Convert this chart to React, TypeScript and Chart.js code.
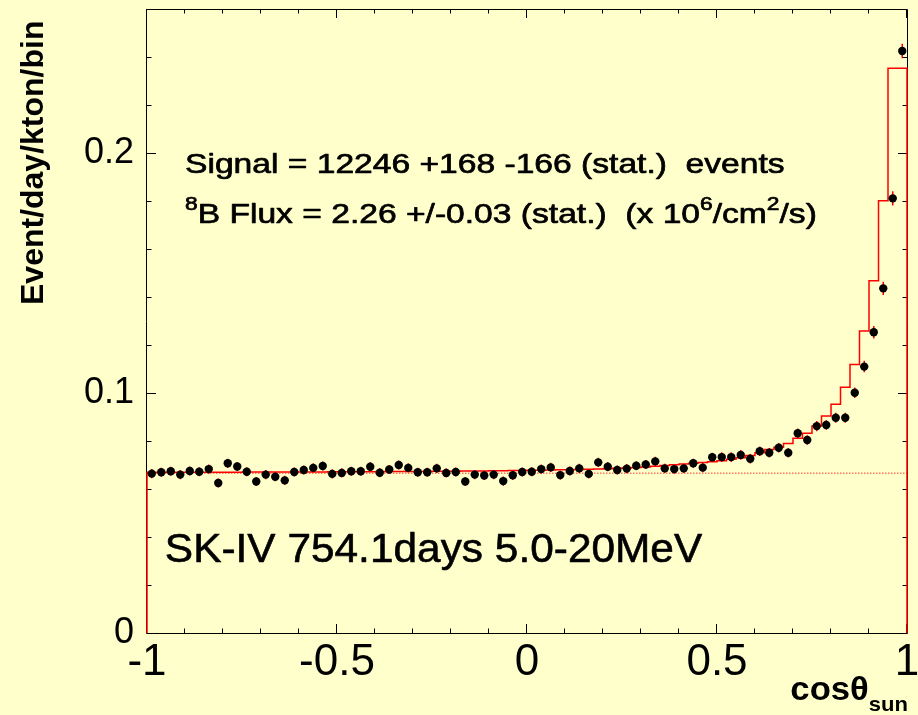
import React, { useEffect, useRef } from "react";
import { Chart, registerables } from "chart.js";

Chart.register(...registerables);

// ---- Histogram binning (80 bins over cos(theta_sun) in [-1, 1]) ----
const BIN_LOW = -1;
const BIN_WIDTH = 0.025;

// Data points (event/day/kton/bin), one per bin
const dataValues = [
  0.0664, 0.0670, 0.0674, 0.0660, 0.0675, 0.0672, 0.0683, 0.0625, 0.0707, 0.0694,
  0.0672, 0.0631, 0.0660, 0.0651, 0.0636, 0.0671, 0.0679, 0.0688, 0.0696, 0.0663,
  0.0667, 0.0674, 0.0674, 0.0693, 0.0668, 0.0681, 0.0700, 0.0688, 0.0670, 0.0670,
  0.0686, 0.0667, 0.0671, 0.0631, 0.0660, 0.0656, 0.0660, 0.0633, 0.0657, 0.0671,
  0.0672, 0.0683, 0.0690, 0.0658, 0.0675, 0.0686, 0.0663, 0.0711, 0.0693, 0.0679,
  0.0685, 0.0697, 0.0702, 0.0715, 0.0686, 0.0683, 0.0686, 0.0707, 0.0689, 0.0732,
  0.0733, 0.0733, 0.0742, 0.0726, 0.0757, 0.0751, 0.0772, 0.0751, 0.0832, 0.0804,
  0.0862, 0.0867, 0.0897, 0.0897, 0.1001, 0.1110, 0.1253, 0.1436, 0.1811, 0.2425,
];

// Statistical errors per bin
const dataErrors = [
  0.0019, 0.0019, 0.0019, 0.0019, 0.0019, 0.0019, 0.0019, 0.0019, 0.0019, 0.0019,
  0.0019, 0.0019, 0.0019, 0.0019, 0.0019, 0.0019, 0.0019, 0.0019, 0.0019, 0.0019,
  0.0019, 0.0019, 0.0019, 0.0019, 0.0019, 0.0019, 0.0019, 0.0019, 0.0019, 0.0019,
  0.0019, 0.0019, 0.0019, 0.0019, 0.0019, 0.0019, 0.0019, 0.0019, 0.0019, 0.0019,
  0.0019, 0.0019, 0.0019, 0.0019, 0.0019, 0.0019, 0.0019, 0.0019, 0.0019, 0.0019,
  0.0019, 0.0019, 0.0019, 0.0019, 0.0019, 0.0019, 0.0019, 0.0019, 0.0019, 0.0019,
  0.0020, 0.0020, 0.0020, 0.0020, 0.0020, 0.0020, 0.0020, 0.0020, 0.0020, 0.0020,
  0.0021, 0.0021, 0.0021, 0.0021, 0.0022, 0.0024, 0.0026, 0.0028, 0.0030, 0.0030,
];

// Best-fit expectation (signal + background), one per bin
const fitValues = [
  0.0670, 0.0670, 0.0670, 0.0670, 0.0670, 0.0670, 0.0670, 0.0670, 0.0670, 0.0670,
  0.0670, 0.0671, 0.0671, 0.0671, 0.0671, 0.0671, 0.0671, 0.0671, 0.0671, 0.0671,
  0.0672, 0.0672, 0.0672, 0.0672, 0.0672, 0.0672, 0.0673, 0.0673, 0.0673, 0.0673,
  0.0673, 0.0674, 0.0674, 0.0674, 0.0675, 0.0675, 0.0675, 0.0676, 0.0676, 0.0677,
  0.0677, 0.0678, 0.0678, 0.0679, 0.0680, 0.0680, 0.0681, 0.0682, 0.0683, 0.0684,
  0.0686, 0.0688, 0.0690, 0.0692, 0.0695, 0.0698, 0.0701, 0.0704, 0.0707, 0.0710,
  0.0714, 0.0718, 0.0724, 0.0730, 0.0740, 0.0751, 0.0765, 0.0774, 0.0790, 0.0811,
  0.0832, 0.0862, 0.0904, 0.0953, 0.1024, 0.1119, 0.1258, 0.1468, 0.1801, 0.2353,
];

// Flat background level
const backgroundLevel = 0.0666;

// Axes
const X_MIN = -1;
const X_MAX = 1;
const Y_MIN = 0;
const Y_MAX = 0.26;
const xTickValues = [-1, -0.5, 0, 0.5, 1];
const xTickLabels = ["-1", "-0.5", "0", "0.5", "1"];
const yTickValues = [0, 0.1, 0.2];
const yTickLabels = ["0", "0.1", "0.2"];
const X_MINOR_STEP = 0.1;
const Y_MINOR_STEP = 0.02;

// Texts
const yTitle = "Event/day/kton/bin";
const xTitleMain = "cos\u03B8";
const xTitleSub = "sun";
const signalLine = "Signal = 12246 +168 -166 (stat.)  events";
const fluxLine = [
  { t: "8", sup: true },
  { t: "B Flux = 2.26 +/-0.03 (stat.)  (x 10", sup: false },
  { t: "6", sup: true },
  { t: "/cm", sup: false },
  { t: "2", sup: true },
  { t: "/s)", sup: false },
];
const runLabel = "SK-IV 754.1days 5.0-20MeV";

const BG = "#ffffcc";
const RED = "#ff0000";
const SANS = "'Liberation Sans', Arial, Helvetica, sans-serif";

type Seg = { t: string; size: number; rise?: number; bold?: boolean };

function drawRich(
  ctx: CanvasRenderingContext2D,
  segs: Seg[],
  x: number,
  y: number,
  sx: number,
  align: "left" | "right" = "left",
  heavy = 0
) {
  ctx.save();
  ctx.textBaseline = "alphabetic";
  ctx.textAlign = "left";
  ctx.fillStyle = "#000";
  ctx.strokeStyle = "#000";
  ctx.lineJoin = "round";
  let total = 0;
  const widths = segs.map((s) => {
    ctx.font = `${s.bold ? "bold " : ""}${s.size}px ${SANS}`;
    const w = ctx.measureText(s.t).width;
    total += w;
    return w;
  });
  ctx.translate(x, y);
  ctx.scale(sx, 1);
  let cx = align === "right" ? -total : 0;
  segs.forEach((s, i) => {
    ctx.font = `${s.bold ? "bold " : ""}${s.size}px ${SANS}`;
    ctx.fillText(s.t, cx, -(s.rise || 0));
    if (heavy > 0) {
      ctx.lineWidth = heavy;
      ctx.strokeText(s.t, cx, -(s.rise || 0));
    }
    cx += widths[i];
  });
  ctx.restore();
}

const rootStyle = {
  id: "rootStyle",
  beforeDraw(chart: any) {
    const { ctx, width, height } = chart;
    ctx.save();
    ctx.fillStyle = BG;
    ctx.fillRect(0, 0, width, height);
    ctx.restore();
  },
  beforeDatasetsDraw(chart: any) {
    const { ctx, chartArea } = chart;
    const xs = chart.scales.x;
    const ys = chart.scales.y;
    const { left, right, top, bottom } = chartArea;
    ctx.save();
    ctx.strokeStyle = "#000";
    ctx.lineWidth = 1;
    ctx.beginPath();
    ctx.rect(left - 0.5, top + 0.5, right - left + 1, bottom - top);
    ctx.stroke();
    // x ticks (bottom and top, inward)
    const nx = Math.round((X_MAX - X_MIN) / X_MINOR_STEP);
    ctx.beginPath();
    for (let k = 0; k <= nx; k++) {
      const v = X_MIN + k * X_MINOR_STEP;
      const px = Math.round(xs.getPixelForValue(v)) - 0.5;
      const len = k % 5 === 0 ? 9 : 4.5;
      ctx.moveTo(px, bottom);
      ctx.lineTo(px, bottom - len);
      ctx.moveTo(px, top);
      ctx.lineTo(px, top + len);
    }
    // y ticks (left and right, inward)
    const ny = Math.floor((Y_MAX - Y_MIN) / Y_MINOR_STEP + 1e-6);
    for (let k = 0; k <= ny; k++) {
      const v = Y_MIN + k * Y_MINOR_STEP;
      const py = Math.round(ys.getPixelForValue(v)) + 0.5;
      const len = k % 5 === 0 ? 9 : 4.5;
      ctx.moveTo(left, py);
      ctx.lineTo(left + len, py);
      ctx.moveTo(right, py);
      ctx.lineTo(right - len, py);
    }
    ctx.stroke();
    ctx.restore();
  },
  afterDatasetDraw(chart: any, args: any) {
    if (args.index !== 1) return;
    const { ctx } = chart;
    const xs = chart.scales.x;
    const ys = chart.scales.y;
    ctx.save();
    ctx.strokeStyle = RED;
    ctx.lineWidth = 1.5;
    ctx.beginPath();
    dataValues.forEach((v, i) => {
      const px = xs.getPixelForValue(BIN_LOW + (i + 0.5) * BIN_WIDTH);
      ctx.moveTo(px, ys.getPixelForValue(v - dataErrors[i]));
      ctx.lineTo(px, ys.getPixelForValue(v + dataErrors[i]));
    });
    ctx.stroke();
    ctx.restore();
  },
  afterDraw(chart: any) {
    const { ctx } = chart;
    const xs = chart.scales.x;
    const ys = chart.scales.y;

    // Annotation lines
    drawRich(ctx, [{ t: signalLine, size: 28 }], xs.getPixelForValue(-0.9), ys.getPixelForValue(0.1915), 1.2, "left", 0.7);
    drawRich(
      ctx,
      fluxLine.map((s) => (s.sup ? { t: s.t, size: 19, rise: 13 } : { t: s.t, size: 28 })),
      xs.getPixelForValue(-0.9),
      ys.getPixelForValue(0.1707),
      1.2,
      "left",
      0.7
    );
    drawRich(ctx, [{ t: runLabel, size: 40 }], xs.getPixelForValue(-0.953), ys.getPixelForValue(0.0296), 1.06, "left", 0.6);

    // X axis title (right aligned at the end of the axis)
    drawRich(
      ctx,
      [
        { t: xTitleMain, size: 33, bold: true },
        { t: xTitleSub, size: 21, bold: true, rise: -11 },
      ],
      chart.chartArea.right + 1,
      700,
      1.05,
      "right"
    );

    // Y axis title (rotated)
    ctx.save();
    ctx.translate(34, 305);
    ctx.rotate(-Math.PI / 2);
    ctx.font = `bold 32px ${SANS}`;
    ctx.fillStyle = "#000";
    ctx.textAlign = "left";
    ctx.textBaseline = "middle";
    ctx.fillText(yTitle, 0, 0);
    ctx.restore();
  },
};

function zeroPadding(scale: any) {
  scale.paddingTop = 0;
  scale.paddingBottom = 0;
  scale.paddingLeft = 0;
  scale.paddingRight = 0;
}

export default function App() {
  const canvasRef = useRef<HTMLCanvasElement | null>(null);

  useEffect(() => {
    document.body.style.margin = "0";
    document.body.style.background = BG;
    const canvas = canvasRef.current;
    if (!canvas) return;

    const points = dataValues.map((v, i) => ({ x: BIN_LOW + (i + 0.5) * BIN_WIDTH, y: v }));
    const stepPts: { x: number; y: number }[] = [{ x: BIN_LOW, y: 0 }];
    fitValues.forEach((v, i) => stepPts.push({ x: BIN_LOW + i * BIN_WIDTH, y: v }));
    stepPts.push({ x: BIN_LOW + fitValues.length * BIN_WIDTH, y: fitValues[fitValues.length - 1] });
    stepPts.push({ x: BIN_LOW + fitValues.length * BIN_WIDTH, y: 0 });
    const bkgPts = [
      { x: X_MIN, y: backgroundLevel },
      { x: X_MAX, y: backgroundLevel },
    ];

    const chart = new Chart(canvas, {
      type: "scatter",
      data: {
        datasets: [
          {
            label: "data",
            data: points,
            showLine: false,
            pointRadius: 4.2,
            pointHoverRadius: 4.2,
            pointBackgroundColor: "#000",
            pointBorderWidth: 0,
            clip: false,
          } as any,
          {
            label: "fit",
            data: stepPts,
            showLine: true,
            stepped: "after",
            borderColor: RED,
            borderWidth: 1.5,
            pointRadius: 0,
            fill: false,
            clip: false,
          } as any,
          {
            label: "background",
            data: bkgPts,
            showLine: true,
            borderColor: "rgba(255,0,0,0.8)",
            borderWidth: 1,
            borderDash: [1.5, 1.5],
            pointRadius: 0,
            fill: false,
          } as any,
        ],
      },
      options: {
        responsive: false,
        animation: false,
        devicePixelRatio: 1,
        layout: { padding: { top: 9, right: 11, left: 0, bottom: 0 } },
        plugins: { legend: { display: false }, tooltip: { enabled: false } },
        events: [],
        scales: {
          x: {
            type: "linear",
            min: X_MIN,
            max: X_MAX,
            grid: { display: false, drawTicks: false },
            border: { display: false },
            afterBuildTicks: (scale: any) => {
              scale.ticks = xTickValues.map((v) => ({ value: v }));
            },
            afterFit: (scale: any) => {
              scale.height = 82;
              zeroPadding(scale);
            },
            ticks: {
              autoSkip: false,
              maxRotation: 0,
              minRotation: 0,
              padding: 3,
              color: "#000",
              font: { family: SANS, size: 44 },
              callback: (value: any) => {
                const idx = xTickValues.findIndex((t) => Math.abs(t - Number(value)) < 1e-9);
                return idx >= 0 ? xTickLabels[idx] : "";
              },
            },
          },
          y: {
            type: "linear",
            min: Y_MIN,
            max: Y_MAX,
            grid: { display: false, drawTicks: false },
            border: { display: false },
            afterBuildTicks: (scale: any) => {
              scale.ticks = yTickValues.map((v) => ({ value: v }));
            },
            afterFit: (scale: any) => {
              scale.width = 147;
              zeroPadding(scale);
            },
            ticks: {
              autoSkip: false,
              padding: 13,
              color: "#000",
              font: { family: SANS, size: 36 },
              callback: (value: any) => {
                const idx = yTickValues.findIndex((t) => Math.abs(t - Number(value)) < 1e-9);
                return idx >= 0 ? yTickLabels[idx] : "";
              },
            },
          },
        },
      },
      plugins: [rootStyle],
    });

    return () => {
      chart.destroy();
    };
  }, []);

  return (
    <div style={{ width: 918, height: 715, background: BG }}>
      <canvas ref={canvasRef} width={918} height={715} style={{ display: "block" }} />
    </div>
  );
}
